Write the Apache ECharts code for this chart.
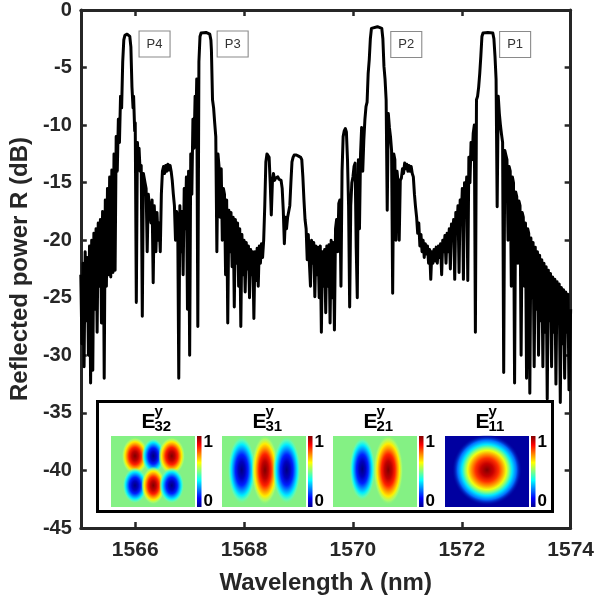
<!DOCTYPE html>
<html><head><meta charset="utf-8">
<script src="https://cdn.jsdelivr.net/npm/echarts@6/dist/echarts.min.js"></script>
<style>html,body{margin:0;padding:0;background:#fff}#c{width:597px;height:600px}</style>
</head><body><div id="c"></div>
<script>
// ---------------- data (wavelength nm, reflected power dB) ----------------
const xTickValues = [1566, 1568, 1570, 1572, 1574];
const yMin = -45, yMax = 0, yStep = 5;
const peakNames = ['P4', 'P3', 'P2', 'P1'];
const peakLabelCoords = [[1566.355, -2.95], [1567.79, -2.95], [1570.98, -3.0], [1572.98, -3.0]];
const modeSubscripts = ['32', '31', '21', '11'];

const bandP4 = [[1565.00,-23],[1565.02,-29],[1565.04,-22],[1565.06,-31],[1565.08,-21],[1565.10,-27],[1565.12,-21.5],[1565.14,-30],[1565.16,-20.5],[1565.18,-32.4],[1565.20,-20],[1565.22,-31.3],[1565.24,-19.4],[1565.26,-26],[1565.28,-19],[1565.30,-28],[1565.32,-18.5],[1565.34,-24],[1565.36,-18.2],[1565.38,-27.2],[1565.40,-17.5],[1565.42,-24],[1565.43,-32],[1565.45,-16.5],[1565.47,-24],[1565.49,-15.5],[1565.51,-23],[1565.53,-14.5],[1565.55,-23.2],[1565.57,-13.9],[1565.59,-22.8],[1565.61,-12.5],[1565.63,-22.6],[1565.65,-11],[1565.67,-14],[1565.69,-9.5],[1565.71,-11.5],[1565.73,-7.5],[1565.75,-8.5],[1565.77,-4.5],[1565.79,-2.6],[1565.81,-2.2],[1565.85,-2.1],[1565.88,-2.15],[1565.90,-2.3],[1565.92,-3.2],[1565.94,-6.7],[1565.96,-8.5],[1565.97,-7.5],[1565.99,-10.5],[1566.00,-9.8],[1566.02,-25.4],[1566.04,-11.5],[1566.06,-13],[1566.07,-12],[1566.09,-14],[1566.11,-13.5],[1566.13,-26.6],[1566.15,-14.2],[1566.18,-15],[1566.20,-15.5],[1566.22,-21],[1566.24,-16],[1566.26,-17],[1566.29,-18.5],[1566.31,-16.5],[1566.33,-23.7],[1566.35,-17],[1566.38,-21],[1566.40,-17.6],[1566.42,-20],[1566.44,-18.5],[1566.46,-21],[1566.48,-16]];

const bandP3 = [[1566.50,-14],[1566.52,-13.6],[1566.54,-14.2],[1566.56,-13.5],[1566.58,-14],[1566.60,-13.4],[1566.62,-13.9],[1566.64,-13.5],[1566.66,-14],[1566.68,-14.8],[1566.70,-16],[1566.72,-17],[1566.74,-20],[1566.76,-17.5],[1566.78,-18],[1566.80,-32],[1566.82,-17],[1566.84,-21],[1566.86,-17.5],[1566.88,-23],[1566.90,-15.5],[1566.92,-19],[1566.94,-14.5],[1566.96,-26],[1566.98,-14],[1567.00,-30],[1567.02,-12.5],[1567.04,-16],[1567.06,-9.5],[1567.08,-12],[1567.10,-7.5],[1567.12,-8.5],[1567.13,-6],[1567.15,-27.5],[1567.17,-4.5],[1567.19,-2.3],[1567.21,-2.0],[1567.30,-1.95],[1567.37,-2.1],[1567.39,-2.6],[1567.40,-3.5],[1567.42,-7.8],[1567.44,-8.5],[1567.46,-9.8],[1567.48,-11],[1567.50,-21],[1567.52,-12.5],[1567.54,-13.6],[1567.56,-18],[1567.58,-13.8],[1567.60,-20],[1567.62,-15.5],[1567.64,-16],[1567.66,-23],[1567.68,-16.5],[1567.70,-27.2],[1567.72,-17.4],[1567.74,-21],[1567.76,-17.6],[1567.78,-22.3],[1567.80,-18],[1567.82,-25.8],[1567.84,-18.2],[1567.86,-22],[1567.88,-18.5],[1567.90,-24],[1567.92,-19],[1567.94,-27.5],[1567.96,-19.5],[1567.98,-23],[1568.00,-20],[1568.02,-24.5],[1568.04,-20.2],[1568.06,-22.5],[1568.08,-20.5],[1568.10,-25],[1568.12,-20.8],[1568.14,-23],[1568.16,-21],[1568.18,-26.8],[1568.20,-21],[1568.22,-23.5],[1568.24,-20.7],[1568.26,-24],[1568.28,-20.5],[1568.30,-22],[1568.32,-20.3],[1568.34,-21.5],[1568.36,-20]];

const bandSide = [[1568.38,-17],[1568.40,-13.2],[1568.42,-12.5],[1568.44,-12.4],[1568.46,-12.8],[1568.48,-15],[1568.50,-17.8],[1568.52,-15],[1568.54,-14.2],[1568.56,-14.8],[1568.58,-14.6],[1568.60,-14.7],[1568.62,-14.5],[1568.64,-14.7],[1568.66,-14.6],[1568.68,-14.8],[1568.70,-15.5],[1568.72,-17.4],[1568.74,-20.3],[1568.76,-18],[1568.78,-19],[1568.80,-18],[1568.82,-17.5],[1568.84,-17],[1568.86,-15],[1568.88,-13.2],[1568.90,-12.8],[1568.92,-12.6],[1568.96,-12.6],[1569.00,-12.7],[1569.04,-12.8],[1569.06,-13],[1569.08,-14.5],[1569.10,-16.5],[1569.12,-18.2],[1569.14,-19],[1569.16,-21.7],[1569.18,-19.5],[1569.20,-22],[1569.22,-24],[1569.24,-20],[1569.26,-22],[1569.28,-20.2],[1569.30,-24.9],[1569.32,-20.5],[1569.34,-23],[1569.36,-20.6],[1569.38,-25],[1569.40,-20.5],[1569.42,-28],[1569.44,-21],[1569.46,-24],[1569.48,-20.8],[1569.50,-26.3],[1569.52,-20.5],[1569.54,-24],[1569.56,-20.4],[1569.58,-27.2],[1569.60,-20],[1569.62,-25],[1569.64,-20.2],[1569.66,-27.8],[1569.68,-19],[1569.70,-18.2],[1569.72,-21],[1569.74,-16.8],[1569.76,-16.5],[1569.78,-24],[1569.80,-14],[1569.82,-11],[1569.84,-10.5],[1569.86,-10.3],[1569.88,-10.6],[1569.90,-13],[1569.92,-17]];

const bandP2 = [[1569.94,-25.8],[1569.96,-17],[1569.98,-15],[1570.00,-14.5],[1570.02,-13.6],[1570.04,-13.3],[1570.06,-20.6],[1570.08,-25],[1570.10,-13],[1570.12,-19],[1570.14,-12.5],[1570.16,-10.2],[1570.18,-14],[1570.20,-11.3],[1570.22,-9.5],[1570.24,-8.4],[1570.26,-8],[1570.28,-5.5],[1570.30,-4.3],[1570.32,-2.5],[1570.34,-1.6],[1570.36,-1.5],[1570.45,-1.45],[1570.53,-1.6],[1570.55,-2.5],[1570.57,-4.9],[1570.59,-6],[1570.61,-7.8],[1570.63,-17.4],[1570.65,-9],[1570.67,-10.2],[1570.69,-11],[1570.71,-12.2],[1570.73,-24.6],[1570.75,-12.5],[1570.77,-13],[1570.79,-20],[1570.81,-14],[1570.83,-15],[1570.85,-20],[1570.87,-14.8],[1570.89,-14.6],[1570.91,-13.8],[1570.93,-14.2],[1570.95,-13.3],[1570.97,-13.8],[1570.99,-13.4],[1571.01,-14],[1571.03,-13.5],[1571.05,-14],[1571.07,-13.6],[1571.09,-14.2],[1571.11,-14.5],[1571.13,-16],[1571.15,-17.1],[1571.17,-18],[1571.19,-19.4],[1571.21,-18.5],[1571.23,-20.5],[1571.25,-19.5],[1571.27,-21],[1571.29,-20],[1571.31,-21.5]];

const bandP1 = [[1571.33,-20.3],[1571.35,-21.2],[1571.37,-20.5],[1571.39,-22],[1571.41,-20.8],[1571.43,-23.4],[1571.45,-21],[1571.47,-22],[1571.49,-20.8],[1571.51,-21.8],[1571.53,-20.6],[1571.55,-22],[1571.57,-20.5],[1571.59,-21.5],[1571.61,-20.3],[1571.63,-23],[1571.65,-20],[1571.67,-21],[1571.69,-19.6],[1571.71,-22],[1571.73,-19.4],[1571.75,-21],[1571.77,-19],[1571.79,-22.5],[1571.81,-18.6],[1571.83,-20],[1571.85,-18.2],[1571.87,-23.4],[1571.89,-17.6],[1571.91,-19],[1571.93,-17],[1571.95,-22.8],[1571.97,-16.5],[1571.99,-18],[1572.01,-15.5],[1572.03,-23.4],[1572.05,-15],[1572.07,-17],[1572.09,-14.5],[1572.11,-23.5],[1572.13,-12.8],[1572.15,-15],[1572.17,-11.5],[1572.19,-13],[1572.21,-10.7],[1572.23,-10],[1572.25,-28],[1572.27,-7.8],[1572.29,-7.5],[1572.31,-6.7],[1572.33,-5.5],[1572.35,-4],[1572.37,-2.3],[1572.39,-2.0],[1572.48,-1.95],[1572.57,-2.0],[1572.59,-2.5],[1572.61,-4],[1572.63,-6],[1572.65,-17.1],[1572.67,-7.5],[1572.69,-9],[1572.71,-10],[1572.73,-10.8],[1572.75,-11.5],[1572.77,-31.5],[1572.79,-12.2],[1572.81,-12.6],[1572.83,-13],[1572.85,-20],[1572.87,-13.6],[1572.89,-14],[1572.91,-24],[1572.93,-14.5],[1572.95,-15],[1572.97,-32.4],[1572.99,-15.8],[1573.01,-16.2],[1573.03,-22],[1573.05,-16.6],[1573.07,-17],[1573.09,-30],[1573.11,-17.6],[1573.13,-18],[1573.15,-24],[1573.17,-18.5],[1573.19,-32],[1573.21,-19],[1573.23,-19.4],[1573.25,-33.3],[1573.27,-19.8],[1573.29,-25],[1573.31,-20.2],[1573.33,-31],[1573.35,-20.6],[1573.37,-26],[1573.39,-21],[1573.41,-30],[1573.43,-21.3],[1573.45,-27],[1573.47,-21.7],[1573.49,-31],[1573.51,-22],[1573.53,-28],[1573.55,-22.3],[1573.57,-33.8],[1573.59,-22.6],[1573.61,-27],[1573.63,-22.9],[1573.65,-31],[1573.67,-23.2],[1573.69,-28],[1573.71,-23.4],[1573.73,-32.5],[1573.75,-23.6],[1573.77,-27],[1573.79,-23.8],[1573.81,-34.1],[1573.83,-24.1],[1573.85,-29],[1573.87,-24.3],[1573.89,-32],[1573.91,-24.5],[1573.93,-28],[1573.95,-24.7],[1573.97,-33],[1574.00,-26]];

const spectrum = [].concat(bandP4, bandP3, bandSide, bandP2, bandP1);

// ---------------- chart ----------------
const FONT = 'Liberation Sans, Arial, Helvetica, sans-serif';
const INK = '#262626';
const chart = echarts.init(document.getElementById('c'), null, {renderer: 'canvas'});

const frameAxisLine = {show: true, onZero: false, lineStyle: {color: INK, width: 3}};
const innerTick = {show: true, inside: true, length: 6, lineStyle: {color: INK, width: 2.5}};

// jet colormap helpers for the inset
const GREEN = '#84f184';
const JET_BAR = {type: 'linear', x: 0, y: 0, x2: 0, y2: 1, colorStops: [
  {offset: 0, color: '#800000'}, {offset: 0.125, color: '#ff0000'}, {offset: 0.375, color: '#ffff00'},
  {offset: 0.5, color: '#80ff80'}, {offset: 0.625, color: '#00ffff'}, {offset: 0.875, color: '#0000ff'},
  {offset: 1, color: '#00008f'}]};
function radial(stops) {
  return {type: 'radial', x: 0.5, y: 0.5, r: 0.5, colorStops: stops.map(s => ({offset: s[0], color: s[1]}))};
}
const RED_LOBE = radial([[0,'#800000'],[0.25,'#c00000'],[0.45,'#ff2000'],[0.62,'#ff9a00'],[0.75,'#ffee00'],[0.88,'rgba(190,255,90,0.7)'],[1,'rgba(132,241,132,0)']]);
const BLUE_LOBE = radial([[0,'#000080'],[0.25,'#0000c0'],[0.45,'#0020ff'],[0.62,'#0098ff'],[0.75,'#00eeff'],[0.88,'rgba(80,255,200,0.7)'],[1,'rgba(132,241,132,0)']]);
const FUND_LOBE = radial([[0,'#800000'],[0.18,'#c80000'],[0.33,'#ff3000'],[0.45,'#ff9c00'],[0.55,'#f0ff10'],[0.63,'#80ff80'],[0.72,'#00e8ff'],[0.84,'#0070ff'],[1,'rgba(0,0,160,0)']]);

function lobe(cx, cy, rx, ry, fill) {
  return {type: 'circle', x: cx, y: cy, scaleX: rx / 10, scaleY: ry / 10,
    shape: {cx: 0, cy: 0, r: 10}, style: {fill: fill}, z: 102, silent: true};
}
const imgTop = 436, imgH = 71, imgW = 84;
const imgLeft = [111, 222, 333, 445];
const lobes = [
  [[135,456,13.5,19,RED_LOBE],[153.3,456,11.5,18,BLUE_LOBE],[171.7,456,13.5,19,RED_LOBE],
   [135,485.5,12.5,18,BLUE_LOBE],[153.3,485.5,12,19,RED_LOBE],[171.7,485.5,12.5,18,BLUE_LOBE]],
  [[241.7,470,14,34,BLUE_LOBE],[265,470,13.5,35,RED_LOBE],[286.7,470,14,34,BLUE_LOBE]],
  [[362.3,469,13,32,BLUE_LOBE],[388.3,470,15,35,RED_LOBE]],
  [[487,470,35,35.5,FUND_LOBE]]
];
const graphics = [{type: 'rect', shape: {x: 97.5, y: 401.5, width: 455, height: 110},
  style: {fill: '#fff', stroke: '#000', lineWidth: 3}, z: 100, silent: true}];
imgLeft.forEach((x0, i) => {
  graphics.push({type: 'rect', shape: {x: x0, y: imgTop, width: imgW, height: imgH},
    style: {fill: i === 3 ? '#0000a0' : GREEN}, z: 101, silent: true});
  lobes[i].forEach(l => graphics.push(lobe(l[0], l[1], l[2], l[3], l[4])));
  const cbX = x0 + imgW + 2;
  graphics.push({type: 'rect', shape: {x: cbX, y: imgTop, width: 4.5, height: imgH},
    style: {fill: JET_BAR}, z: 101, silent: true});
  graphics.push({type: 'text', x: cbX + 6.5, y: 442, style: {text: '1', font: 'bold 17px ' + FONT, fill: '#000', textVerticalAlign: 'middle'}, z: 103});
  graphics.push({type: 'text', x: cbX + 6.5, y: 501, style: {text: '0', font: 'bold 17px ' + FONT, fill: '#000', textVerticalAlign: 'middle'}, z: 103});
  const ex = x0 + 30.5;
  graphics.push({type: 'text', x: ex, y: 422.5, style: {text: 'E', font: 'bold 21px ' + FONT, fill: '#000', textVerticalAlign: 'middle'}, z: 103});
  graphics.push({type: 'text', x: ex + 13, y: 411.5, style: {text: 'y', font: 'bold 15px ' + FONT, fill: '#000', textVerticalAlign: 'middle'}, z: 103});
  graphics.push({type: 'text', x: ex + 13, y: 427, style: {text: modeSubscripts[i], font: 'bold 15px ' + FONT, fill: '#000', textVerticalAlign: 'middle'}, z: 103});
});

const option = {
  animation: false,
  backgroundColor: '#fff',
  textStyle: {fontFamily: FONT},
  grid: {left: 78, right: 24, top: 10, bottom: 71, containLabel: false},
  xAxis: [{
    type: 'value', min: 1565, max: 1574, position: 'bottom',
    axisLine: frameAxisLine, axisTick: Object.assign({customValues: xTickValues}, innerTick),
    axisLabel: {customValues: xTickValues, formatter: v => String(v), fontSize: 21, fontWeight: 'bold', color: INK, margin: 12, fontFamily: FONT},
    splitLine: {show: false},
    name: 'Wavelength \u03bb (nm)', nameLocation: 'middle', nameGap: 43,
    nameTextStyle: {fontSize: 24, fontWeight: 'bold', color: INK, fontFamily: FONT}
  }, {
    type: 'value', min: 1565, max: 1574, position: 'top',
    axisLine: frameAxisLine, axisTick: Object.assign({customValues: xTickValues}, innerTick),
    axisLabel: {show: false}, splitLine: {show: false}
  }],
  yAxis: [{
    type: 'value', min: yMin, max: yMax, interval: yStep, position: 'left',
    axisLine: frameAxisLine, axisTick: innerTick,
    axisLabel: {fontSize: 20, fontWeight: 'bold', color: INK, margin: 9, fontFamily: FONT},
    splitLine: {show: false},
    name: 'Reflected power R (dB)', nameLocation: 'middle', nameGap: 46, nameRotate: 90,
    nameTextStyle: {fontSize: 24, fontWeight: 'bold', color: INK, fontFamily: FONT}
  }, {
    type: 'value', min: yMin, max: yMax, interval: yStep, position: 'right',
    axisLine: frameAxisLine, axisTick: innerTick, axisLabel: {show: false}, splitLine: {show: false}
  }],
  series: [{
    type: 'line', xAxisIndex: 0, yAxisIndex: 0, data: spectrum,
    showSymbol: false, symbol: 'none', smooth: false, clip: true,
    lineStyle: {color: '#000', width: 3, join: 'round'},
    markPoint: {
      symbol: 'rect', symbolSize: [31, 26], silent: true,
      itemStyle: {color: '#fff', borderColor: '#8a8a8a', borderWidth: 1},
      label: {show: true, position: 'inside', formatter: '{b}', color: '#333', fontSize: 13, fontFamily: FONT},
      data: peakNames.map((n, i) => ({name: n, coord: peakLabelCoords[i]}))
    }
  }],
  graphic: graphics
};
chart.setOption(option);
</script>
</body></html>
